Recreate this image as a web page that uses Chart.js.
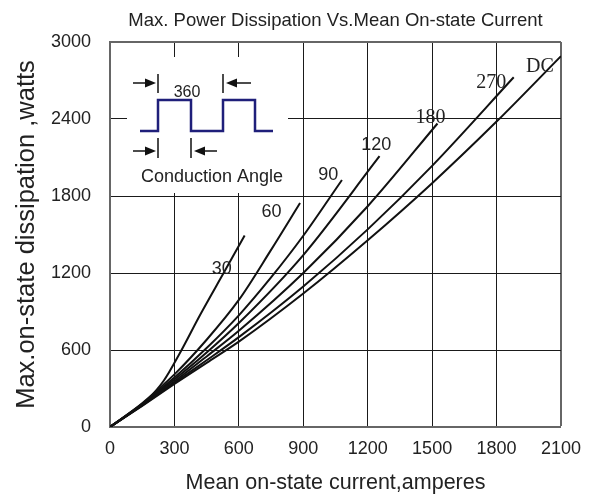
<!DOCTYPE html>
<html>
<head>
<meta charset="utf-8">
<script src="https://cdn.jsdelivr.net/npm/chart.js@4/dist/chart.umd.min.js"></script>
<style>
  html, body { margin: 0; padding: 0; background: #fff; }
  #wrap { width: 592px; height: 496px; position: relative; }
</style>
</head>
<body>
<div id="wrap"><canvas id="c" width="592" height="496"></canvas></div>
<script>
// ---- Data (current in A, power in W) ----
const curveNames = ['30', '60', '90', '120', '180', '270', 'DC'];

const current30  = [0, 100, 175, 250, 325, 420, 529, 627];
const power30    = [0, 115, 215, 360, 575, 875, 1200, 1492];

const current60  = [0, 150, 300, 450, 600, 750, 885];
const power60    = [0, 185, 410, 680, 990, 1380, 1745];

const current90  = [0, 150, 300, 450, 600, 750, 900, 1080];
const power90    = [0, 180, 385, 615, 870, 1165, 1490, 1925];

const current120 = [0, 150, 300, 450, 600, 900, 1255];
const power120   = [0, 176, 370, 580, 810, 1340, 2110];

const current180 = [0, 150, 300, 450, 600, 900, 1200, 1525];
const power180   = [0, 172, 355, 550, 750, 1200, 1720, 2365];

const current270 = [0, 150, 300, 450, 600, 900, 1200, 1500, 1880];
const power270   = [0, 168, 345, 520, 700, 1095, 1540, 2035, 2725];

const currentDC  = [0, 150, 300, 450, 600, 900, 1200, 1500, 1800, 2100];
const powerDC    = [0, 165, 335, 500, 665, 1040, 1455, 1900, 2380, 2890];

// curve label anchor positions (data units)
const labelCurrent = [520, 752, 1016, 1240, 1493, 1775, 2002];
const labelPower   = [1230, 1678, 1964, 2197, 2408, 2680, 2808];

const xTicks = [0, 300, 600, 900, 1200, 1500, 1800, 2100];
const yTicks = [0, 600, 1200, 1800, 2400, 3000];

const titleText  = 'Max. Power Dissipation Vs.Mean On-state Current';
const xTitleText = 'Mean on-state current,amperes';
const yTitleText = 'Max.on-state dissipation ,watts';
const insetAngle = '360';
const insetCaption = 'Conduction Angle';

// ---- build datasets ----
const seriesX = [current30, current60, current90, current120, current180, current270, currentDC];
const seriesY = [power30, power60, power90, power120, power180, power270, powerDC];
const datasets = curveNames.map((n, i) => ({
  label: n,
  data: seriesX[i].map((x, j) => ({ x: x, y: seriesY[i][j] })),
  borderColor: '#111',
  borderWidth: 2,
  pointRadius: 0,
  fill: false,
  cubicInterpolationMode: 'monotone'
}));

const SANS = '"Liberation Sans", Arial, sans-serif';
const SERIF = '"Liberation Serif", "Times New Roman", serif';

function arrow(ctx, x1, y, x2) {
  const dir = Math.sign(x2 - x1);
  ctx.beginPath();
  ctx.moveTo(x1, y);
  ctx.lineTo(x2 - dir * 8, y);
  ctx.stroke();
  ctx.beginPath();
  ctx.moveTo(x2, y);
  ctx.lineTo(x2 - dir * 11, y - 4.5);
  ctx.lineTo(x2 - dir * 11, y + 4.5);
  ctx.closePath();
  ctx.fill();
}

const insetPlugin = {
  id: 'inset',
  beforeDatasetsDraw(chart) {
    const ctx = chart.ctx;
    const a = chart.chartArea;
    const L = a.left, T = a.top;
    ctx.save();
    ctx.fillStyle = '#fff';
    ctx.fillRect(L + 17, T + 15, 161, 136);
    ctx.strokeStyle = '#1f1f7a';
    ctx.lineWidth = 2.5;
    ctx.lineJoin = 'miter';
    ctx.beginPath();
    const lo = T + 89, hi = T + 58;
    ctx.moveTo(L + 30, lo);
    ctx.lineTo(L + 48, lo); ctx.lineTo(L + 48, hi);
    ctx.lineTo(L + 81, hi); ctx.lineTo(L + 81, lo);
    ctx.lineTo(L + 113, lo); ctx.lineTo(L + 113, hi);
    ctx.lineTo(L + 145, hi); ctx.lineTo(L + 145, lo);
    ctx.lineTo(L + 163, lo);
    ctx.stroke();
    ctx.strokeStyle = '#111';
    ctx.fillStyle = '#111';
    ctx.lineWidth = 1.5;
    ctx.beginPath();
    ctx.moveTo(L + 48, T + 32); ctx.lineTo(L + 48, T + 51);
    ctx.moveTo(L + 113, T + 32); ctx.lineTo(L + 113, T + 51);
    ctx.moveTo(L + 48, T + 96); ctx.lineTo(L + 48, T + 116);
    ctx.moveTo(L + 81, T + 96); ctx.lineTo(L + 81, T + 116);
    ctx.stroke();
    arrow(ctx, L + 23, T + 41, L + 46);
    arrow(ctx, L + 141, T + 41, L + 116);
    arrow(ctx, L + 23, T + 109, L + 46);
    arrow(ctx, L + 107, T + 109, L + 84);
    ctx.fillStyle = '#222';
    ctx.textAlign = 'center';
    ctx.textBaseline = 'middle';
    ctx.font = '16px ' + SANS;
    ctx.fillText(insetAngle, L + 77, T + 51);
    ctx.font = '18px ' + SANS;
    ctx.fillText(insetCaption, L + 102, T + 135);
    ctx.restore();
  },
  afterDatasetsDraw(chart) {
    const ctx = chart.ctx;
    const xs = chart.scales.x, ys = chart.scales.y;
    ctx.save();
    ctx.fillStyle = '#222';
    ctx.textAlign = 'center';
    ctx.textBaseline = 'middle';
    curveNames.forEach((n, i) => {
      const serif = (n === '180' || n === '270' || n === 'DC');
      ctx.font = (serif ? '20px ' + SERIF : '18px ' + SANS);
      ctx.fillText(n, xs.getPixelForValue(labelCurrent[i]), ys.getPixelForValue(labelPower[i]));
    });
    ctx.restore();
  }
};

const frameColor = '#666';
new Chart(document.getElementById('c'), {
  type: 'line',
  data: { datasets: datasets },
  options: {
    responsive: false,
    animation: false,
    layout: { padding: { left: 0, right: 25, top: 0, bottom: 0 } },
    plugins: {
      legend: { display: false },
      tooltip: { enabled: false },
      title: {
        display: true,
        text: titleText,
        fullSize: false,
        color: '#222',
        font: { family: SANS, size: 18.5, weight: 'normal' },
        padding: { top: 10, bottom: 9.8 }
      }
    },
    scales: {
      x: {
        type: 'linear',
        min: 0, max: 2100,
        afterFit(s) { s.height = 69; },
        afterBuildTicks(s) { s.ticks = xTicks.map(v => ({ value: v })); },
        ticks: { color: '#222', padding: 11, font: { family: SANS, size: 18 }, maxRotation: 0, autoSkip: false,
                 callback: v => String(v) },
        grid: {
          drawTicks: false,
          color: c => (c.tick && c.tick.value === 2100) ? frameColor : '#1a1a1a',
          lineWidth: c => (c.tick && c.tick.value === 2100) ? 2 : 1
        },
        border: { color: frameColor, width: 2 },
        title: {
          display: true, text: xTitleText, color: '#222',
          font: { family: SANS, size: 21.5 }, padding: { top: 0, bottom: 0 }
        }
      },
      y: {
        type: 'linear',
        min: 0, max: 3000,
        afterFit(s) { s.width = 110; },
        afterBuildTicks(s) { s.ticks = yTicks.map(v => ({ value: v })); },
        ticks: { color: '#222', padding: 19, font: { family: SANS, size: 18 }, autoSkip: false,
                 callback: v => String(v) },
        grid: {
          drawTicks: false,
          color: c => (c.tick && c.tick.value === 3000) ? frameColor : '#1a1a1a',
          lineWidth: c => (c.tick && c.tick.value === 3000) ? 2 : 1
        },
        border: { color: frameColor, width: 2 },
        title: {
          display: true, text: yTitleText, color: '#222',
          font: { family: SANS, size: 25.5 }, padding: { top: 12, bottom: 0 }
        }
      }
    }
  },
  plugins: [insetPlugin]
});
</script>
</body>
</html>
